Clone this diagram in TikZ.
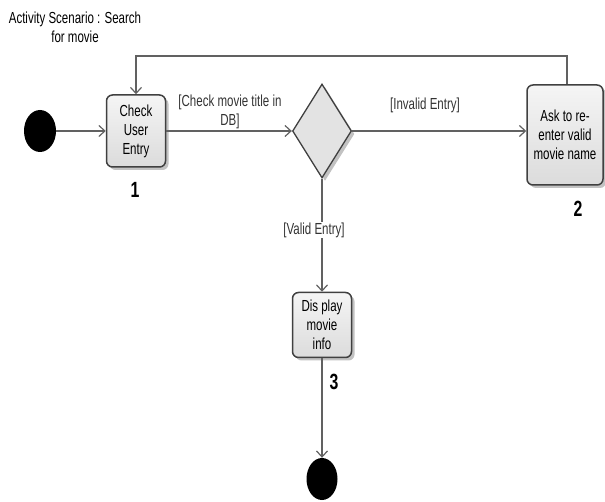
\documentclass[tikz,border=0pt]{standalone}
\usepackage{fontspec}
\setmainfont[FakeStretch=0.72]{Liberation Sans}
\usetikzlibrary{arrows.meta,shapes.geometric,shadows}
\begin{document}
\begin{tikzpicture}[x=1pt,y=-1pt,
  font=\fontsize{16}{19}\selectfont,
  action/.style={draw=black!75, line width=1.5pt, rounded corners=6pt,
    top color=white!96!black, bottom color=black!14, align=center,
    inner sep=1pt,
    drop shadow={shadow xshift=3pt, shadow yshift=-3pt, fill=black!40, opacity=0.6}},
  decision/.style={diamond, draw=black!75, line width=1.3pt, fill=black!11,
    inner sep=0pt, minimum width=59pt, minimum height=94pt, aspect=0.63,
    drop shadow={shadow xshift=3pt, shadow yshift=-3pt, fill=black!40, opacity=0.6}},
  terminal/.style={ellipse, fill=black, inner sep=0pt},
  flow/.style={draw=black!62, line width=1.2pt, -{Straight Barb[length=6pt,width=11pt,line width=1.2pt]}},
  guard/.style={text=black!80, align=center},
  step number/.style={font=\fontsize{22}{22}\bfseries\selectfont}]
\useasboundingbox (0,0) rectangle (605,502);

% title
\node[align=center] (title) at (75,27) {Activity Scenario : Search\\for movie};

% nodes
\node[terminal, minimum width=32pt, minimum height=42pt] (start) at (40,131) {};
\node[action, minimum width=59pt, minimum height=72pt] (check) at (136,131) {Check\\User\\Entry};
\node[decision] (dec) at (322,131) {};
\node[action, minimum width=76pt, minimum height=100pt] (ask) at (565,135) {Ask to re-\\enter valid\\movie name};
\node[action, minimum width=59pt, minimum height=65pt] (disp) at (322,325) {Dis play\\movie\\info};
\node[terminal, minimum width=31pt, minimum height=42pt] (stop) at (322,479) {};

% step numbers
\node[step number] (n1) at (135,190) {1};
\node[step number] (n2) at (578,209) {2};
\node[step number] (n3) at (334,382) {3};

% flows
\draw[flow] (start) -- (check);
\draw[flow] (check) -- (dec.west);
\draw[flow] (dec.east) -- (ask.west |- dec.east);
\draw[flow] (dec.south) -- (disp.north);
\draw[flow] (disp.south) -- (stop.north);
\coordinate (loopR) at (567,56);
\coordinate (loopL) at (136,56);
\draw[flow] (loopR |- ask.north) -- (loopR) -- (loopL) -- (check.north);

% guards
\node[guard] (g1) at (230,112) {[Check movie title in\\DB]};
\node[guard] (g2) at (425,105) {[Invalid Entry]};
\node[guard, fill=white, inner sep=1pt] (g3) at (314,230) {[Valid Entry]};
\end{tikzpicture}
\end{document}
